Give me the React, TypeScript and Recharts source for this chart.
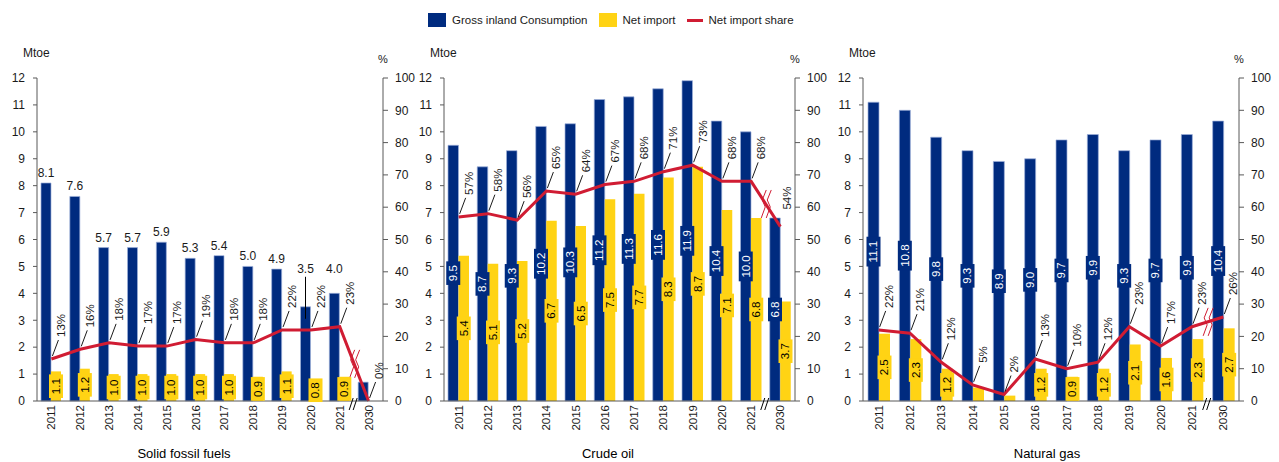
import React from "react";
import { ComposedChart, Bar, Line, XAxis, YAxis, LabelList } from "recharts";

const years = ["2011", "2012", "2013", "2014", "2015", "2016", "2017", "2018", "2019", "2020", "2021", "2030"];

const solidGross = [8.1, 7.6, 5.7, 5.7, 5.9, 5.3, 5.4, 5.0, 4.9, 3.5, 4.0, 0.7];
const solidImport = [1.1, 1.2, 1.0, 1.0, 1.0, 1.0, 1.0, 0.9, 1.1, 0.8, 0.9, 0];
const solidShare = [13, 16, 18, 17, 17, 19, 18, 18, 22, 22, 23, 0];

const oilGross = [9.5, 8.7, 9.3, 10.2, 10.3, 11.2, 11.3, 11.6, 11.9, 10.4, 10.0, 6.8];
const oilImport = [5.4, 5.1, 5.2, 6.7, 6.5, 7.5, 7.7, 8.3, 8.7, 7.1, 6.8, 3.7];
const oilShare = [57, 58, 56, 65, 64, 67, 68, 71, 73, 68, 68, 54];

const gasGross = [11.1, 10.8, 9.8, 9.3, 8.9, 9.0, 9.7, 9.9, 9.3, 9.7, 9.9, 10.4];
const gasImport = [2.5, 2.3, 1.2, 0.5, 0.2, 1.2, 0.9, 1.2, 2.1, 1.6, 2.3, 2.7];
const gasShare = [22, 21, 12, 5, 2, 13, 10, 12, 23, 17, 23, 26];

const mtoeTicks = [0, 1, 2, 3, 4, 5, 6, 7, 8, 9, 10, 11, 12];
const pctTicks = [0, 10, 20, 30, 40, 50, 60, 70, 80, 90, 100];

const BLUE = "#002b7f";
const YELLOW = "#ffd314";
const RED = "#d01c33";
const AXIS = "#595959";
const TEXT = "#1a1a1a";
const FONT = "'Liberation Sans', Arial, sans-serif";

const H = 462;
const TOP = 78;
const XH = 61;

type PanelProps = {
  left: number;
  width: number;
  leftW: number;
  rightW: number;
  barSize: number;
  title: string;
  titleX: number;
  gross: number[];
  imports: number[];
  share: number[];
  grossMode: "above" | "inside";
  raised?: Record<number, number>;
  plainShare?: number[];
};

const insideLabel = (box: string, color: string) => (props: any) => {
  const { x, y, width, height, value } = props;
  if (value == null || value < 0.75) return null;
  const cx = Number(x) + Number(width) / 2;
  const cy = Number(y) + Number(height) / 2;
  const txt = Number(value).toFixed(1);
  const len = txt.length * 6.2 + 5;
  return (
    <g>
      <rect x={cx - 7} y={cy - len / 2} width={14} height={len} fill={box} />
      <text
        x={cx}
        y={cy}
        transform={`rotate(-90, ${cx}, ${cy})`}
        textAnchor="middle"
        dominantBaseline="central"
        fontSize={11.5}
        fontFamily={FONT}
        fill={color}
      >
        {txt}
      </text>
    </g>
  );
};

const aboveLabel = (raised: Record<number, number>) => (props: any) => {
  const { x, y, width, value, index } = props;
  if (value == null || value < 0.75) return null;
  const cx = Number(x) + Number(width) / 2;
  const up = raised[index] ?? 0;
  const ty = Number(y) - 6 - up;
  return (
    <g>
      {up > 20 && <line x1={cx} y1={ty + 4} x2={cx} y2={Number(y) + 12} stroke="#000" strokeWidth={1} />}
      <text x={cx} y={ty} textAnchor="middle" fontSize={12} fontFamily={FONT} fill={TEXT}>
        {Number(value).toFixed(1)}
      </text>
    </g>
  );
};

const shareLabel = (plain: number[]) => (props: any) => {
  const { x, y, value, index } = props;
  if (value == null) return null;
  const px = Number(x);
  const py = Number(y);
  const isPlain = plain.includes(index);
  const tx = px + (isPlain ? 7 : 10);
  const ty = py - (isPlain ? 17 : 22);
  return (
    <g>
      {!isPlain && <line x1={px + 1} y1={py - 3} x2={px + 7} y2={py - 19} stroke="#000" strokeWidth={0.9} />}
      <text
        x={tx}
        y={ty}
        transform={`rotate(-90, ${tx}, ${ty})`}
        textAnchor="start"
        dominantBaseline="central"
        fontSize={11.5}
        fontFamily={FONT}
        fill={TEXT}
      >
        {value}%
      </text>
    </g>
  );
};

const lineBreakDot = (props: any) => {
  const { index, cx, cy, points } = props;
  const last = years.length - 1;
  if (index !== last || !points || !points[index - 1]) return <g key={`dot-${index}`} />;
  const p = points[index - 1];
  const mx = (p.x + cx) / 2;
  const my = (p.y + cy) / 2;
  return (
    <g key={`dot-${index}`}>
      {[-2.5, 2.5].map((d) => (
        <path
          key={d}
          d={`M${mx + d + 3},${my - 14} L${mx + d - 1},${my - 4} L${mx + d + 2},${my + 3} L${mx + d - 2},${my + 14}`}
          fill="none"
          stroke={RED}
          strokeWidth={1}
        />
      ))}
    </g>
  );
};

const yearTick = (band: number) => (props: any) => {
  const { x, y, payload } = props;
  const axisY = y - 4;
  const bx = x - band / 2;
  return (
    <g>
      <text
        x={x}
        y={y}
        transform={`rotate(-90, ${x}, ${y})`}
        textAnchor="end"
        dominantBaseline="central"
        fontSize={11.5}
        fontFamily={FONT}
        fill={TEXT}
      >
        {payload.value}
      </text>
      {payload.value === years[years.length - 1] &&
        [0, 4].map((d) => (
          <line key={d} x1={bx - 5 + d} y1={axisY + 9} x2={bx - 1 + d} y2={axisY - 3} stroke="#000" strokeWidth={1} />
        ))}
    </g>
  );
};

function Panel(p: PanelProps) {
  const data = years.map((year, i) => ({
    year,
    gross: p.gross[i],
    imp: p.imports[i],
    share: p.share[i],
  }));
  const plotW = p.width - p.leftW - p.rightW;
  const band = plotW / years.length;
  const tickStyle = { fontSize: 12, fontFamily: FONT, fill: TEXT };

  return (
    <div style={{ position: "absolute", left: p.left, top: 0 }}>
      <ComposedChart
        width={p.width}
        height={H}
        data={data}
        margin={{ top: TOP, right: 0, bottom: 0, left: 0 }}
        barGap={0}
      >
        <XAxis
          dataKey="year"
          height={XH}
          interval={0}
          tickLine={false}
          tickSize={0}
          tickMargin={4}
          axisLine={{ stroke: AXIS }}
          tick={yearTick(band)}
          label={{
            content: () => (
              <text x={p.titleX - p.left} y={458} textAnchor="middle" fontSize={13} fontFamily={FONT} fill="#000">
                {p.title}
              </text>
            ),
          }}
        />
        <YAxis
          yAxisId="l"
          orientation="left"
          width={p.leftW}
          domain={[0, 12]}
          ticks={mtoeTicks}
          interval={0}
          tickSize={4}
          tickMargin={8}
          axisLine={{ stroke: AXIS }}
          tickLine={{ stroke: AXIS }}
          tick={tickStyle}
          label={{
            content: () => (
              <text x={p.leftW - 14} y={57} fontSize={12} fontFamily={FONT} fill={TEXT}>
                Mtoe
              </text>
            ),
          }}
        />
        <YAxis
          yAxisId="r"
          orientation="right"
          width={p.rightW}
          domain={[0, 100]}
          ticks={pctTicks}
          interval={0}
          tickSize={5}
          tickMargin={7}
          axisLine={{ stroke: AXIS }}
          tickLine={{ stroke: AXIS }}
          tick={tickStyle}
          label={{
            content: () => (
              <text x={p.leftW + plotW} y={63} textAnchor="middle" fontSize={11} fontFamily={FONT} fill={TEXT}>
                %
              </text>
            ),
          }}
        />
        <Bar
          yAxisId="l"
          dataKey="gross"
          fill={BLUE}
          stroke="#9db0da"
          strokeWidth={0.7}
          barSize={p.barSize}
          isAnimationActive={false}
        >
          <LabelList
            dataKey="gross"
            content={p.grossMode === "above" ? aboveLabel(p.raised ?? {}) : insideLabel(BLUE, "#ffffff")}
          />
        </Bar>
        <Bar yAxisId="l" dataKey="imp" fill={YELLOW} barSize={p.barSize} isAnimationActive={false}>
          <LabelList dataKey="imp" content={insideLabel(YELLOW, "#000000")} />
        </Bar>
        <Line
          yAxisId="r"
          type="linear"
          dataKey="share"
          stroke={RED}
          strokeWidth={3}
          dot={lineBreakDot}
          activeDot={false}
          isAnimationActive={false}
        >
          <LabelList dataKey="share" content={shareLabel(p.plainShare ?? [])} />
        </Line>
      </ComposedChart>
    </div>
  );
}

function Legend() {
  const item = { display: "flex", alignItems: "center", marginRight: 11 } as React.CSSProperties;
  return (
    <div
      style={{
        position: "absolute",
        left: 428,
        top: 13,
        display: "flex",
        alignItems: "center",
        fontFamily: FONT,
        fontSize: 11.5,
        color: TEXT,
        whiteSpace: "nowrap",
      }}
    >
      <div style={item}>
        <span style={{ width: 18, height: 14, background: BLUE, marginRight: 6 }} />
        Gross inland Consumption
      </div>
      <div style={item}>
        <span style={{ width: 18, height: 14, background: YELLOW, marginRight: 6 }} />
        Net import
      </div>
      <div style={item}>
        <span style={{ width: 16, height: 3, background: RED, marginRight: 6 }} />
        Net import share
      </div>
    </div>
  );
}

export default function App() {
  return (
    <div style={{ position: "absolute", left: 0, top: 0, width: 1279, height: H, background: "#fff" }}>
      <style>{`.recharts-surface { overflow: visible; }`}</style>
      <Legend />
      <Panel
        left={0}
        width={410}
        leftW={37}
        rightW={27}
        barSize={10}
        title="Solid fossil fuels"
        titleX={184}
        gross={solidGross}
        imports={solidImport}
        share={solidShare}
        grossMode="above"
        raised={{ 9: 28, 10: 14 }}
      />
      <Panel
        left={410}
        width={420}
        leftW={34}
        rightW={35}
        barSize={10.5}
        title="Crude oil"
        titleX={608}
        gross={oilGross}
        imports={oilImport}
        share={oilShare}
        grossMode="inside"
        plainShare={[11]}
      />
      <Panel
        left={830}
        width={449}
        leftW={33}
        rightW={40}
        barSize={11}
        title="Natural gas"
        titleX={1047}
        gross={gasGross}
        imports={gasImport}
        share={gasShare}
        grossMode="inside"
      />
    </div>
  );
}
